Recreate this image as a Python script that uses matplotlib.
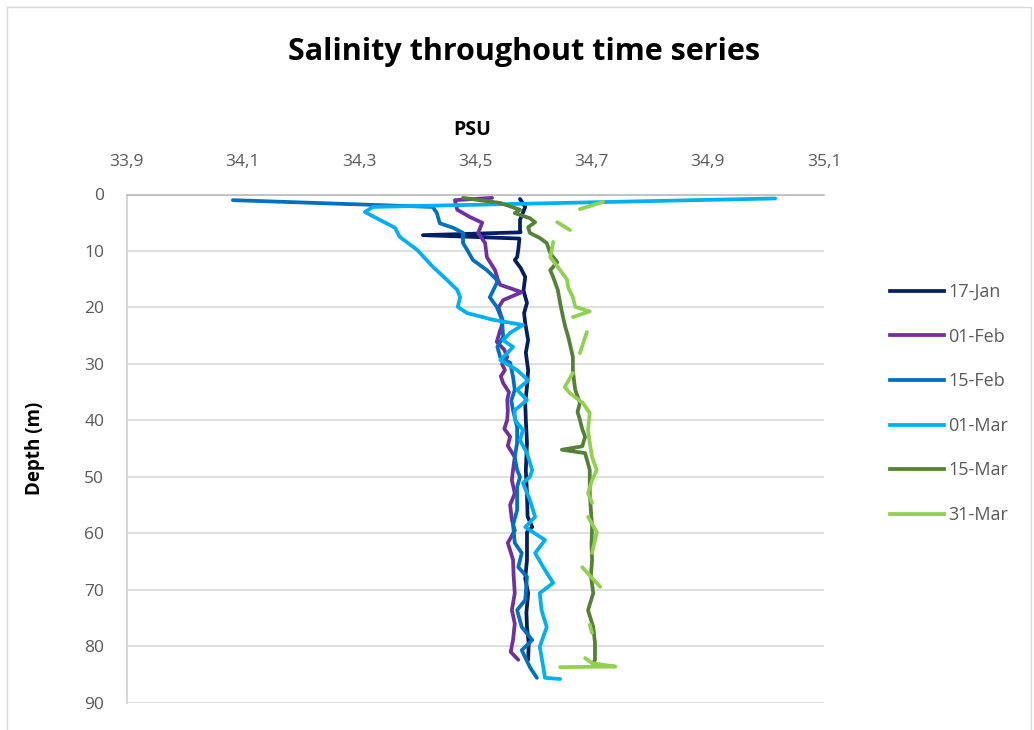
import numpy as np
import matplotlib
matplotlib.use("Agg")
import matplotlib.pyplot as plt
from matplotlib.patches import Rectangle
from matplotlib.lines import Line2D

nan = np.nan

series_names = ["17-Jan", "01-Feb", "15-Feb", "01-Mar", "15-Mar", "31-Mar"]
series_colors = ["#002060", "#7030A0", "#0070C0", "#00B0F0", "#538135", "#92D050"]

jan17_depth = [0.8, 2.2, 4.5, 6.3, 6.7, 7.2, 7.8, 9.8, 11.1, 11.6, 13.0, 14.6, 17.0, 19.2, 21.0,
               22.8, 25.8, 28.0, 31.1, 34.0, 37.0, 39.9, 44.0, 48.8, 52.9, 57.0, 58.9, 59.8,
               64.7, 68.0, 70.6, 74.0, 76.6, 79.5, 82.4]
jan17_sal = [34.577, 34.586, 34.577, 34.577, 34.578, 34.410, 34.576, 34.574, 34.572, 34.568,
             34.578, 34.586, 34.583, 34.589, 34.584, 34.586, 34.591, 34.587, 34.591, 34.589,
             34.586, 34.587, 34.589, 34.587, 34.589, 34.590, 34.598, 34.589, 34.589, 34.586,
             34.591, 34.588, 34.589, 34.592, 34.591]

feb01_depth = [0.6, 1.0, 2.7, 4.0, 5.0, 6.8, 8.6, 11.1, 13.4, 15.1, 16.0, 17.3, 18.7, 20.0,
               21.0, 22.5, 24.0, 26.1, 27.5, 28.8, 30.0, 31.1, 32.2, 33.4, 35.0, 36.4, 38.2,
               39.9, 41.5, 42.9, 44.5, 46.5, 48.8, 50.6, 52.9, 55.0, 57.6, 59.5, 61.7, 63.0,
               64.7, 67.5, 70.6, 73.6, 76.0, 78.9, 81.0, 82.4]
feb01_sal = [34.529, 34.465, 34.469, 34.491, 34.512, 34.505, 34.517, 34.520, 34.534, 34.539,
             34.543, 34.580, 34.548, 34.540, 34.543, 34.548, 34.543, 34.537, 34.550, 34.555,
             34.546, 34.551, 34.544, 34.548, 34.558, 34.555, 34.556, 34.555, 34.550, 34.560,
             34.556, 34.568, 34.565, 34.563, 34.568, 34.560, 34.563, 34.568, 34.556, 34.560,
             34.565, 34.566, 34.568, 34.563, 34.568, 34.565, 34.561, 34.574]

feb15_depth = [1.0, 2.2, 3.3, 5.1, 5.9, 6.8, 8.6, 9.8, 11.6, 13.4, 15.1, 15.7, 18.2, 19.9,
               22.2, 25.2, 27.0, 28.8, 29.8, 32.3, 34.6, 36.5, 38.2, 41.2, 44.0, 46.5, 48.8,
               50.0, 51.8, 55.9, 58.5, 61.7, 63.5, 66.0, 67.7, 71.8, 73.6, 76.6, 78.9, 80.7,
               83.7, 85.6]
feb15_sal = [34.083, 34.427, 34.434, 34.439, 34.462, 34.479, 34.479, 34.486, 34.496, 34.520,
             34.537, 34.537, 34.525, 34.537, 34.546, 34.548, 34.538, 34.543, 34.560, 34.565,
             34.568, 34.562, 34.565, 34.572, 34.572, 34.568, 34.572, 34.577, 34.572, 34.572,
             34.565, 34.568, 34.580, 34.574, 34.589, 34.586, 34.572, 34.580, 34.598, 34.580,
             34.594, 34.606]

mar01_depth = [0.7, 2.2, 3.1, 4.5, 5.9, 7.5, 9.8, 12.8, 15.1, 16.9, 18.2, 19.9, 21.0, 22.2,
               23.1, 24.5, 25.8, 27.0, 28.1, 29.3, 31.1, 32.9, 34.6, 36.4, 38.2, 39.9, 41.7,
               43.5, 45.8, 48.8, 50.0, 51.1, 54.1, 57.1, 58.9, 61.2, 63.5, 66.0, 68.8, 70.6,
               73.6, 76.6, 80.1, 83.7, 85.6, 85.8]
mar01_sal = [35.016, 34.324, 34.310, 34.336, 34.362, 34.370, 34.400, 34.427, 34.451, 34.469,
             34.474, 34.470, 34.486, 34.531, 34.582, 34.560, 34.548, 34.565, 34.555, 34.543,
             34.572, 34.591, 34.572, 34.589, 34.568, 34.568, 34.582, 34.577, 34.589, 34.598,
             34.594, 34.582, 34.594, 34.603, 34.586, 34.620, 34.603, 34.617, 34.634, 34.611,
             34.614, 34.623, 34.611, 34.617, 34.620, 34.646]

mar15_depth = [0.6, 1.5, 2.7, 3.3, 4.2, 4.9, 5.8, 6.8, 7.7, 8.6, 10.4, 12.0, 13.4, 14.6, 16.9,
               19.2, 21.7, 23.5, 25.2, 27.0, 28.8, 31.1, 33.0, 34.6, 36.9, 38.5, 39.9, 41.5,
               42.9, 44.6, 45.2, 45.8, 48.8, 52.9, 56.0, 58.9, 62.0, 64.7, 67.5, 70.6, 73.6,
               76.6, 79.4, 82.4, 83.0]
mar15_sal = [34.479, 34.543, 34.577, 34.568, 34.594, 34.603, 34.591, 34.594, 34.611, 34.623,
             34.629, 34.641, 34.629, 34.634, 34.642, 34.646, 34.651, 34.655, 34.660, 34.664,
             34.668, 34.668, 34.670, 34.672, 34.680, 34.676, 34.680, 34.684, 34.689, 34.684,
             34.649, 34.689, 34.697, 34.697, 34.699, 34.701, 34.700, 34.701, 34.699, 34.703,
             34.694, 34.703, 34.706, 34.706, 34.703]

mar31_depth = [1.3, 2.6, 3.5, 4.9, 6.3, 7.3, 8.4, 11.1, 13.4, 15.1, 16.5, 18.2, 19.9, 20.7,
               21.7, 23.0, 24.35, 28.1, 30.0, 31.6, 34.1, 35.2, 36.9, 38.7, 41.7, 44.0, 46.5,
               48.8, 50.6, 52.9, 54.6, 56.0, 57.1, 59.8, 63.5, 64.8, 66.0, 69.5, 72.0, 76.2,
               77.65, 80.0, 82.1, 83.0, 83.6, 83.7]
mar31_sal = [34.720, 34.680, nan, 34.641, 34.663, nan, 34.634, 34.629, 34.646, 34.658,
             34.660, 34.668, 34.672, 34.697, 34.668, nan, 34.692, 34.680, nan, 34.668,
             34.654, 34.663, 34.685, 34.697, 34.694, 34.697, 34.701, 34.709, 34.701, 34.694,
             34.701, nan, 34.694, 34.709, 34.701, nan, 34.684, 34.715, nan, 34.697,
             34.701, nan, 34.689, 34.701, 34.741, 34.646]

x_ticks = [33.9, 34.1, 34.3, 34.5, 34.7, 34.9, 35.1]
x_tick_labels = ["33,9", "34,1", "34,3", "34,5", "34,7", "34,9", "35,1"]
y_ticks = [0, 10, 20, 30, 40, 50, 60, 70, 80, 90]

depths = [jan17_depth, feb01_depth, feb15_depth, mar01_depth, mar15_depth, mar31_depth]
sals = [jan17_sal, feb01_sal, feb15_sal, mar01_sal, mar15_sal, mar31_sal]

plt.rcParams['font.family'] = ['Open Sans', 'DejaVu Sans']

W, H = 1034, 730
fig = plt.figure(figsize=(W / 100, H / 100), dpi=100)
fig.patch.set_facecolor("white")

# chart border
fig.add_artist(Rectangle((7 / W, -0.01), (1031 - 7) / W, (H - 7) / H + 0.01,
                         transform=fig.transFigure, fill=False,
                         edgecolor="#D9D9D9", lw=1.0))

left, right, top, bottom = 126.5, 824, 194.5, 702.7
ax = fig.add_axes([left / W, (H - bottom) / H, (right - left) / W, (bottom - top) / H])

for d, s, c, n in zip(depths, sals, series_colors, series_names):
    ax.plot(s, d, color=c, lw=2.7, label=n, solid_capstyle="round", solid_joinstyle="round")

ax.set_xlim(33.9, 35.1)
ax.set_ylim(90, 0)
ax.xaxis.tick_top()
ax.set_xticks(x_ticks)
ax.set_xticklabels(x_tick_labels)
ax.set_yticks(y_ticks)
ax.tick_params(axis="both", length=0, labelsize=12.5, colors="#595959")
ax.tick_params(axis="x", pad=18)
ax.tick_params(axis="y", pad=16)
ax.grid(axis="y", color="#D9D9D9", lw=1.2)
ax.set_axisbelow(True)
for sp in ["right", "bottom"]:
    ax.spines[sp].set_visible(False)
ax.spines["top"].set_color("#BFBFBF")
ax.spines["top"].set_linewidth(1.3)
ax.spines["left"].set_color("#D0D0D0")
ax.spines["left"].set_linewidth(1.2)

fig.text(524 / W, 1 - 52 / H, "Salinity throughout time series", ha="center", va="center",
         fontsize=22, fontweight="bold", color="black")
fig.text(472 / W, 1 - 130 / H, "PSU", ha="center", va="center",
         fontsize=14, fontweight="bold", color="black")
fig.text(35 / W, 1 - 448 / H, "Depth (m)", ha="center", va="center", rotation=90,
         fontsize=13.5, fontweight="bold", color="black")

# legend
handles = [Line2D([0], [0], color=c, lw=2.7) for c in series_colors]
leg = fig.legend(handles, series_names, loc="upper left",
                 bbox_to_anchor=(874 / W, 1 - 267 / H), frameon=False,
                 fontsize=13, labelspacing=1.47, handlelength=3.0, handletextpad=0.22)
for t in leg.get_texts():
    t.set_color("#595959")

fig.savefig("out.png", dpi=100, facecolor="white")
